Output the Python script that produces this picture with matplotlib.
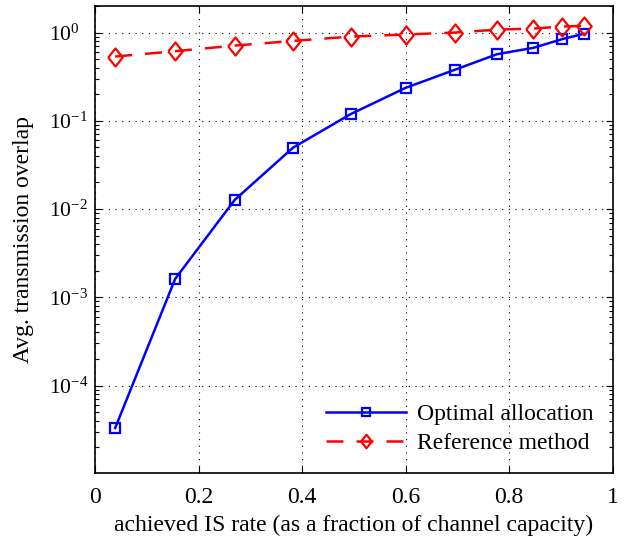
import numpy as np
import matplotlib
matplotlib.use('Agg')
import matplotlib.pyplot as plt
from matplotlib.ticker import LogLocator, FixedLocator, NullFormatter

plt.rcParams['font.family'] = ['Liberation Serif', 'DejaVu Serif']
plt.rcParams['mathtext.fontset'] = 'custom'
plt.rcParams['mathtext.rm'] = 'Liberation Serif'
plt.rcParams['mathtext.it'] = 'Liberation Serif:italic'

# data
is_rate = [0.039, 0.155, 0.27, 0.383, 0.494, 0.600, 0.695, 0.777, 0.847, 0.902, 0.944]
optimal = [3.3e-5, 1.62e-3, 0.0127, 0.0498, 0.119, 0.236, 0.378, 0.569, 0.671, 0.84, 0.967]
reference = [0.535, 0.615, 0.712, 0.805, 0.90, 0.95, 1.0, 1.08, 1.11, 1.17, 1.19]
x_ticks = [0, 0.2, 0.4, 0.6, 0.8, 1]
x_labels = ['0', '0.2', '0.4', '0.6', '0.8', '1']
y_ticks = [1e-4, 1e-3, 1e-2, 1e-1, 1e0]

# matlab style diamond, a bit taller than wide
diamond = [(-0.4, 0), (0, 0.5), (0.4, 0), (0, -0.5), (-0.4, 0)]

fig = plt.figure(figsize=(6.25, 5.38), dpi=100)
ax = fig.add_axes([95/625, 1 - 473/538, (612.5-95)/625, (473-6)/538])

ax.semilogy(is_rate, optimal, '-s', color='#0000ff', lw=1.8, ms=7,
            mfc='none', mew=1.6, label='Optimal allocation')
ax.semilogy(is_rate, reference, '--', marker=diamond, color='#ff0000', lw=1.8, ms=13,
            mfc='none', mew=1.6, dashes=(6.8, 5.2), label='Reference method')

ax.set_xlim(0, 1)
ax.set_ylim(1.02e-5, 2.0)
ax.set_xticks(x_ticks)
ax.set_xticklabels(x_labels)
ax.yaxis.set_major_locator(FixedLocator(y_ticks))
ax.set_yticklabels([r'$10^{%d}$' % int(np.log10(t)) for t in y_ticks])
ax.yaxis.set_minor_locator(LogLocator(base=10, subs=np.arange(2, 10), numticks=20))
ax.yaxis.set_minor_formatter(NullFormatter())

ax.grid(True, which='major', color='black', linestyle=(0, (1, 5)), linewidth=0.8)
ax.tick_params(which='both', direction='in', top=True, right=True, labelsize=17, width=0.8)
ax.tick_params(which='major', length=5)
ax.tick_params(which='minor', length=3)
ax.tick_params(axis='x', pad=10)
ax.tick_params(axis='y', pad=33, labelsize=15.5)
# matlab keeps the "10" base lined up, exponent sticks out to the right
for lab in ax.get_yticklabels():
    lab.set_horizontalalignment('left')
for s in ax.spines.values():
    s.set_linewidth(1.2)

ax.set_xlabel('achieved IS rate (as a fraction of channel capacity)', fontsize=17, labelpad=5)
ax.set_ylabel('Avg. transmission overlap', fontsize=17, labelpad=0)
ax.yaxis.set_label_coords(-0.118, 0.5)

ax.legend(loc='lower right', frameon=False, fontsize=17, handlelength=3.4,
          borderaxespad=0.4, labelspacing=0.32, handletextpad=0.45, markerscale=0.75)

fig.savefig('out.png', dpi=100)
